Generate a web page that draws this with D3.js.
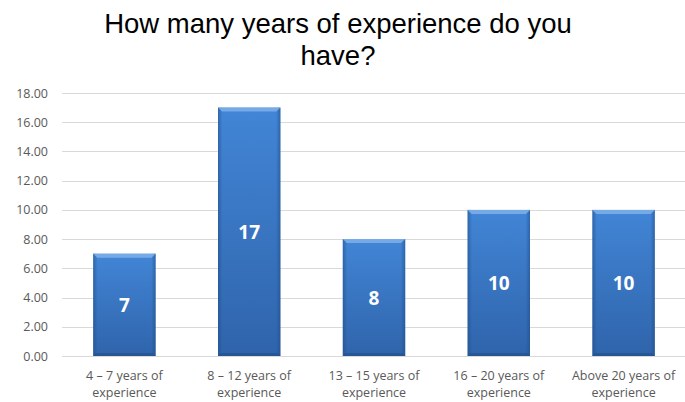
<!DOCTYPE html>
<html>
  <head>
    <meta charset="utf-8">
    <title>How many years of experience do you have?</title>
    <script src="https://d3js.org/d3.v7.min.js"></script>
    <style>
      body { margin: 0; background: #fff; }
      .grid line { stroke: #d9d9d9; stroke-width: 1; }
      .tick text { fill: #595959; }
    </style>
  </head>
  <body>
    <div id="chart"></div>
    <script>

      var categories = [
        ["4 \u2013 7 years of", "experience"],
        ["8 \u2013 12 years of", "experience"],
        ["13 \u2013 15 years of", "experience"],
        ["16 \u2013 20 years of", "experience"],
        ["Above 20 years of", "experience"]
      ];
      var values = [7, 17, 8, 10, 10];
      var yTicks = [0, 2, 4, 6, 8, 10, 12, 14, 16, 18];
      var titleLines = ["How many years of experience do you", "have?"];

      var width = 685,
        height = 402,
        margin = {top: 93, right: 0, bottom: 46, left: 62};

      var svg = d3.select("#chart")
        .append("svg")
          .attr("width", width)
          .attr("height", height);

      var defs = svg.append("defs");
      var grad = defs.append("linearGradient")
        .attr("id", "barFill")
        .attr("x1", 0).attr("y1", 0).attr("x2", 0).attr("y2", 1);
      grad.append("stop").attr("offset", "0%").attr("stop-color", "#4285d6");
      grad.append("stop").attr("offset", "100%").attr("stop-color", "#2f64ab");

      var side = defs.append("linearGradient")
        .attr("id", "sideShade")
        .attr("x1", 0).attr("y1", 0).attr("x2", 1).attr("y2", 0);
      side.append("stop").attr("offset", "0%").attr("stop-color", "#1f4c86").attr("stop-opacity", 0.55);
      side.append("stop").attr("offset", "7%").attr("stop-color", "#1f4c86").attr("stop-opacity", 0);
      side.append("stop").attr("offset", "93%").attr("stop-color", "#1f4c86").attr("stop-opacity", 0);
      side.append("stop").attr("offset", "100%").attr("stop-color", "#1f4c86").attr("stop-opacity", 0.55);

      var x = d3.scaleBand()
        .domain(d3.range(categories.length))
        .range([margin.left, width + 1])
        .paddingInner(0.5)
        .paddingOuter(0.25);

      var y = d3.scaleLinear()
        .domain([0, 18])
        .range([height - margin.bottom, margin.top]);

      // title
      svg.append("text")
        .attr("x", 338)
        .attr("y", 33)
        .attr("text-anchor", "middle")
        .style("font-family", "Liberation Sans, Arial, sans-serif")
        .style("font-size", "27.5px")
        .style("fill", "#000")
        .selectAll("tspan")
        .data(titleLines)
        .enter().append("tspan")
          .attr("x", 338)
          .attr("dy", (d, i) => i === 0 ? 0 : 32)
          .text((d) => d);

      // gridlines
      svg.append("g")
        .attr("class", "grid")
        .selectAll("line")
        .data(yTicks)
        .enter().append("line")
          .attr("x1", margin.left)
          .attr("x2", width)
          .attr("y1", (d) => Math.round(y(d)) + 0.5)
          .attr("y2", (d) => Math.round(y(d)) + 0.5);

      // y axis labels
      var yAxis = d3.axisLeft(y)
        .tickValues(yTicks)
        .tickFormat(d3.format(".2f"))
        .tickSize(0)
        .tickPadding(0);

      svg.append("g")
        .attr("transform", "translate(48,0)")
        .call(yAxis)
        .call((g) => g.select(".domain").remove())
        .selectAll("text")
          .style("font-family", "Open Sans, sans-serif")
          .style("font-size", "12.5px");

      // bars
      var bars = svg.append("g")
        .selectAll("g")
        .data(values)
        .enter().append("g");

      bars.append("rect")
        .attr("x", (d, i) => x(i))
        .attr("y", (d) => y(d))
        .attr("width", x.bandwidth())
        .attr("height", (d) => y(0) - y(d))
        .style("fill", "url(#barFill)");

      bars.append("rect")
        .attr("x", (d, i) => x(i))
        .attr("y", (d) => y(d))
        .attr("width", x.bandwidth())
        .attr("height", (d) => y(0) - y(d))
        .style("fill", "url(#sideShade)");

      // top bevel highlight
      bars.append("path")
        .attr("d", (d, i) => {
          var x0 = x(i), x1 = x(i) + x.bandwidth(), t = y(d);
          return "M" + x0 + "," + t + "L" + x1 + "," + t +
            "L" + (x1 - 4) + "," + (t + 4) + "L" + (x0 + 4) + "," + (t + 4) + "Z";
        })
        .style("fill", "#7fb0ea")
        .style("opacity", 0.85);

      // bottom bevel shade
      bars.append("path")
        .attr("d", (d, i) => {
          var x0 = x(i), x1 = x(i) + x.bandwidth(), b = y(0);
          return "M" + x0 + "," + b + "L" + x1 + "," + b +
            "L" + (x1 - 3) + "," + (b - 3) + "L" + (x0 + 3) + "," + (b - 3) + "Z";
        })
        .style("fill", "#1e4a80")
        .style("opacity", 0.5);

      // value labels
      bars.append("text")
        .attr("x", (d, i) => x(i) + x.bandwidth() / 2)
        .attr("y", (d) => (y(d) + y(0)) / 2 + 7)
        .attr("text-anchor", "middle")
        .style("font-family", "Open Sans, sans-serif")
        .style("font-weight", "bold")
        .style("font-size", "19px")
        .style("fill", "#fff")
        .text((d) => d);

      // category labels
      var cat = svg.append("g")
        .selectAll("text")
        .data(categories)
        .enter().append("text")
          .attr("x", (d, i) => x(i) + x.bandwidth() / 2)
          .attr("y", 380)
          .attr("text-anchor", "middle")
          .style("font-family", "Open Sans, sans-serif")
          .style("font-size", "12.5px")
          .style("fill", "#595959");

      cat.selectAll("tspan")
        .data((d) => d)
        .enter().append("tspan")
          .attr("x", function() { return d3.select(this.parentNode).attr("x"); })
          .attr("dy", (d, i) => i === 0 ? 0 : 17)
          .text((d) => d);

    </script>
  </body>
</html>
